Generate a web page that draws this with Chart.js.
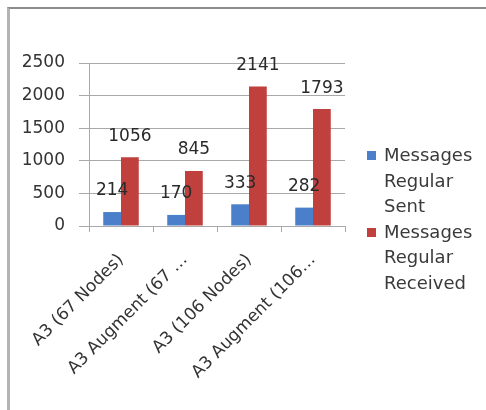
<!DOCTYPE html>
<html>
<head>
<meta charset="utf-8">
<script src="https://cdn.jsdelivr.net/npm/chart.js@4"></script>
<style>
  body { margin: 0; background: #fff; }
  #wrap { position: relative; width: 486px; height: 410px; overflow: hidden; }
  #frame { position: absolute; left: 7px; top: 7px; width: 490px; height: 420px;
           border-top: 2px solid #8c8c8c; border-left: 3px solid #b4b4b4; }
  canvas { position: absolute; left: 0; top: 0; }
  #legend { position: absolute; left: 367px; top: 142px; font: 18px "DejaVu Sans", sans-serif;
            color: #3a3a3a; line-height: 25.5px; }
  .item { position: relative; padding-left: 17px; width: 96px; }
  .box { position: absolute; left: 0; top: 9px; width: 9px; height: 9px; }
</style>
</head>
<body>
<div id="wrap">
  <div id="frame"></div>
  <canvas id="chart" width="486" height="410"></canvas>
  <div id="legend"></div>
</div>
<script>
const categories = ['A3 (67 Nodes)', 'A3 Augment (67 \u2026', 'A3 (106 Nodes)', 'A3 Augment (106\u2026'];
const sentValues = [214, 170, 333, 282];
const receivedValues = [1056, 845, 2141, 1793];
const yTicks = [0, 500, 1000, 1500, 2000, 2500];

const FONT = '"DejaVu Sans", sans-serif';
const gridColor = '#a9a9a9';

// value labels above each bar
const barValues = {
  id: 'barValues',
  afterDatasetsDraw(chart) {
    const ctx = chart.ctx;
    ctx.save();
    ctx.font = '17px ' + FONT;
    ctx.fillStyle = '#2a2a2a';
    ctx.textAlign = 'center';
    ctx.textBaseline = 'middle';
    chart.data.datasets.forEach((ds, i) => {
      chart.getDatasetMeta(i).data.forEach((bar, j) => {
        ctx.fillText(ds.data[j], bar.x, bar.y - 21);
      });
    });
    ctx.restore();
  }
};

const chart = new Chart(document.getElementById('chart'), {
  type: 'bar',
  data: {
    labels: categories,
    datasets: [
      { label: 'Messages Regular Sent', data: sentValues, backgroundColor: '#4a7fc9' },
      { label: 'Messages Regular Received', data: receivedValues, backgroundColor: '#c0403e' }
    ]
  },
  options: {
    responsive: false,
    animation: false,
    datasets: { bar: { categoryPercentage: 0.555, barPercentage: 1 } },
    layout: { padding: { left: 10, top: 63, right: 141, bottom: 0 } },
    plugins: { legend: { display: false }, tooltip: { enabled: false } },
    scales: {
      x: {
        afterFit: s => { s.height = 184; },
        grid: { drawOnChartArea: false, color: gridColor, tickLength: 6 },
        border: { color: gridColor },
        ticks: { color: '#333', font: { family: FONT, size: 17 }, minRotation: 45, maxRotation: 45,
                 autoSkip: false, padding: 18 }
      },
      y: {
        min: 0, max: 2500,
        afterFit: s => { s.width = 79; },
        afterBuildTicks: s => { s.ticks = yTicks.map(v => ({ value: v })); },
        grid: { color: gridColor, tickLength: 10 },
        border: { color: gridColor },
        ticks: { color: '#333', font: { family: FONT, size: 17 }, padding: 14,
                 callback: v => String(v) }
      }
    }
  },
  plugins: [barValues]
});

// legend with wrapped labels, built from the datasets
const legend = document.getElementById('legend');
chart.data.datasets.forEach(ds => {
  const item = document.createElement('div');
  item.className = 'item';
  const box = document.createElement('span');
  box.className = 'box';
  box.style.background = ds.backgroundColor;
  item.appendChild(box);
  item.appendChild(document.createTextNode(ds.label));
  legend.appendChild(item);
});
</script>
</body>
</html>
